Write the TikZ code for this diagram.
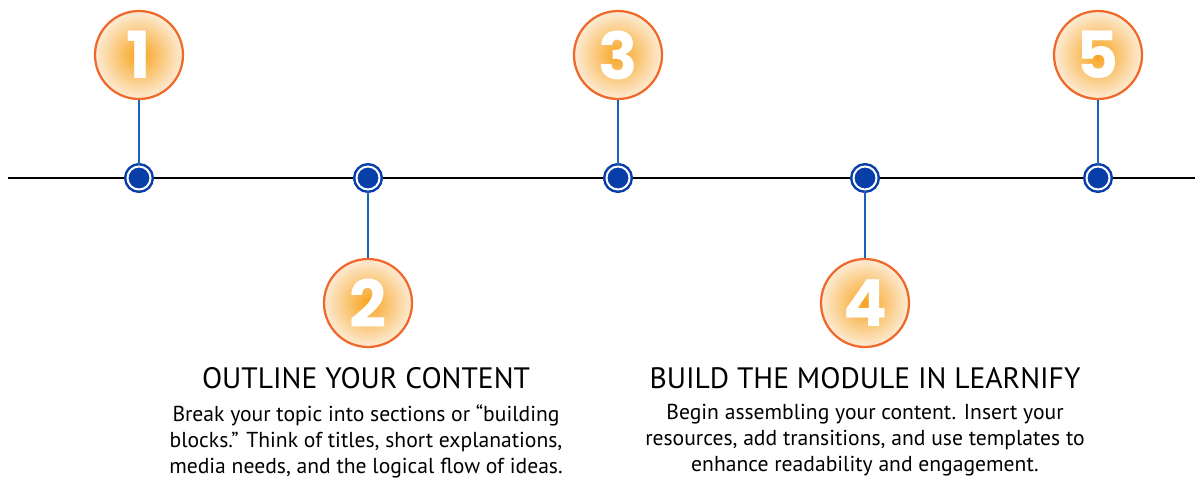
\documentclass[tikz,border=0pt]{standalone}
\usepackage{fontspec}
\setmainfont{PT Sans}
\newfontfamily\numfont{Poppins}
\usetikzlibrary{positioning}

\definecolor{ringorange}{RGB}{240,104,42}
\definecolor{coreorange}{RGB}{247,163,30}
\definecolor{paleorange}{RGB}{253,236,214}
\definecolor{dotblue}{RGB}{8,62,168}
\definecolor{stemblue}{RGB}{27,98,190}

\begin{document}
\begin{tikzpicture}[x=0.02cm,y=-0.02cm,
        badge/.style={circle,draw=ringorange,line width=0.045cm,
            inner color=coreorange,outer color=paleorange,
            minimum size=1.76cm,inner sep=0pt,text=white,
            font=\numfont\bfseries\fontsize{37}{37}\selectfont},
        dot/.style={circle,fill=dotblue,draw=dotblue,double=white,
            double distance=0.04cm,line width=0.05cm,
            minimum size=0.46cm,inner sep=0pt},
        stem/.style={draw=stemblue,line width=0.04cm},
        heading/.style={anchor=base,inner sep=0pt,
            font=\fontsize{16.8}{20}\selectfont},
        blurb/.style={align=center,inner sep=0pt,
            font=\fontsize{12.3}{14.74}\selectfont}]
    \useasboundingbox (0,0) rectangle (1195,477);

    % timeline
    \coordinate (start) at (8,178);
    \coordinate (stop)  at (1195,178);
    \draw[line width=0.045cm] (start) -- (stop);

    % dots on the line
    \node [dot] (d1) at (139,178) {};
    \node [dot] (d2) at (368,178) {};
    \node [dot] (d3) at (618,178) {};
    \node [dot] (d4) at (865,178) {};
    \node [dot] (d5) at (1098,178) {};

    % numbered badges
    \node [badge] (c1) at (139,55)  {1};
    \node [badge] (c2) at (368,303) {2};
    \node [badge] (c3) at (618,55)  {3};
    \node [badge] (c4) at (865,303) {4};
    \node [badge] (c5) at (1098,55) {5};

    \path [stem]
    (c1) edge (d1)
    (c2) edge (d2)
    (c3) edge (d3)
    (c4) edge (d4)
    (c5) edge (d5);

    % captions
    \node [heading] (t2) at (366,388) {OUTLINE YOUR CONTENT};
    \node [blurb, below=0.31cm of t2] (b2)
        {Break your topic into sections or “building\\
         blocks.” Think of titles, short explanations,\\
         media needs, and the logical flow of ideas.};
    \node [heading] (t4) at (865,388) {BUILD THE MODULE IN LEARNIFY};
    \node [blurb, below=0.31cm of t4] (b4)
        {Begin assembling your content. Insert your\\
         resources, add transitions, and use templates to\\
         enhance readability and engagement.};
\end{tikzpicture}
\end{document}
